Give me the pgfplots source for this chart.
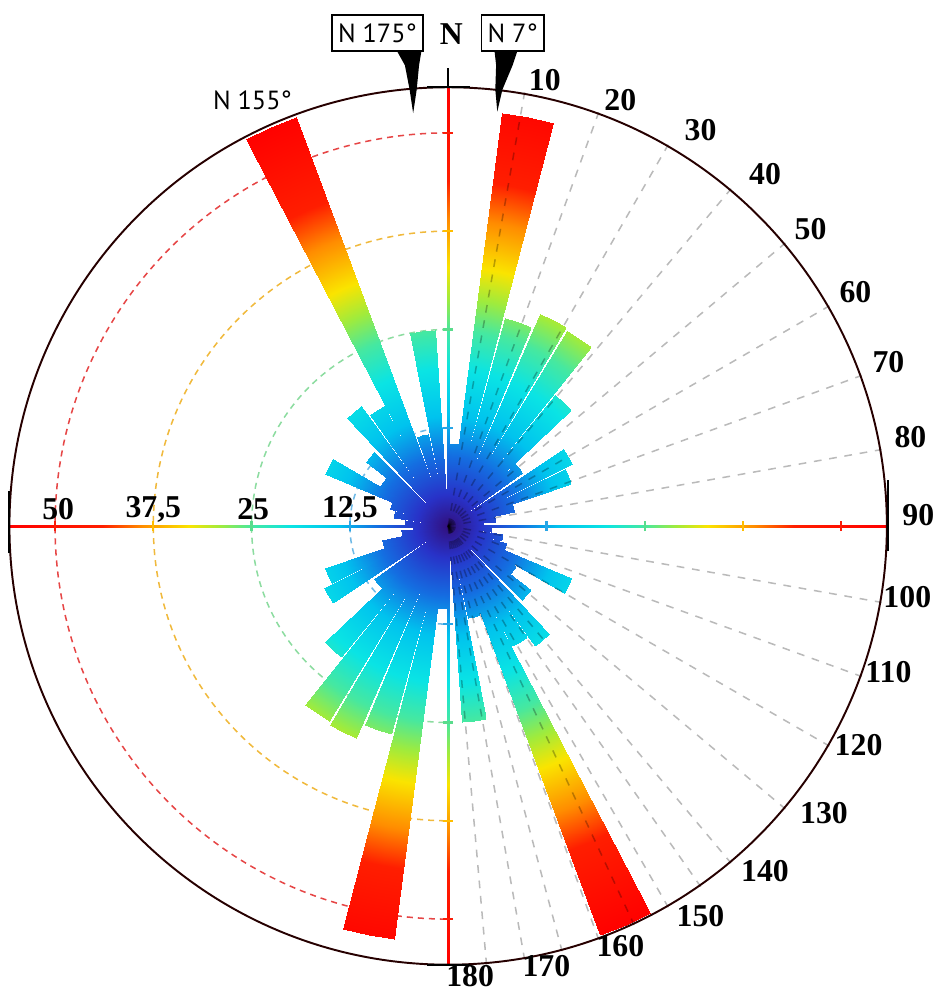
\documentclass[border=0pt]{standalone}
\usepackage{pgfplots}
\pgfplotsset{compat=1.18}
\usepackage{pgfplotstable}
\usepackage{fontspec}
\setmainfont{Liberation Serif}
\newfontfamily\boxfont{PT Sans}

\definecolor{cA}{RGB}{40,165,230}
\definecolor{cB}{RGB}{90,220,140}
\definecolor{cC}{RGB}{255,190,0}
\definecolor{cD}{RGB}{250,30,10}
\definecolor{dA}{RGB}{110,185,230}
\definecolor{dB}{RGB}{140,220,160}
\definecolor{dC}{RGB}{240,185,60}
\definecolor{dD}{RGB}{230,70,70}

% bidirectional rose data: azimuth of bin centre (deg, 0-180) and frequency
\pgfplotstableread{
ang r
3.5 10.5
11 53
19 27.4
27 29.4
35 29.1
43 21.5
50.5 11.6
60 17.6
67.5 16.5
74.5 8.6
81 6
88 4.5
95 5.5
102 7
110 7.7
116.5 17
124 10
131.5 13.3
140.5 18.8
148.3 17.3
156 55.5
164 12
172.5 25
}\rosedata
\def\hw{3.6}

\begin{document}
\begin{tikzpicture}
\begin{axis}[
  x=1mm, y=1mm, scale only axis,
  xmin=-57, xmax=63.6, ymin=-59.4, ymax=66.9,
  hide axis, clip=false,
  colormap={rose}{rgb255(0pt)=(50,15,125); rgb255(4pt)=(40,50,200); rgb255(9pt)=(20,110,225); rgb255(14pt)=(0,195,238); rgb255(20pt)=(10,228,228); rgb255(25pt)=(70,232,160); rgb255(29pt)=(160,235,60); rgb255(33pt)=(250,228,0); rgb255(39pt)=(255,140,0); rgb255(44pt)=(255,30,0); rgb255(56pt)=(255,0,0)},
  point meta min=0, point meta max=56,
]
\path (axis cs:-57,-59.4) rectangle (axis cs:63.6,66.9);

% dashed circles on the left half
\draw[dA, line width=0.55pt, dash pattern=on 2.2pt off 1.8pt] (axis cs:0,12.5) arc[start angle=90, end angle=270, radius=12.5];
\draw[dB, line width=0.55pt, dash pattern=on 2.2pt off 1.8pt] (axis cs:0,25) arc[start angle=90, end angle=270, radius=25];
\draw[dC, line width=0.55pt, dash pattern=on 2.2pt off 1.8pt] (axis cs:0,37.5) arc[start angle=90, end angle=270, radius=37.5];
\draw[dD, line width=0.55pt, dash pattern=on 2.2pt off 1.8pt] (axis cs:0,50) arc[start angle=90, end angle=270, radius=50];

% coloured radial axes
\addplot[patch, shader=interp, point meta=explicit, forget plot] coordinates {
 (0,-0.13) [0] (56,-0.13) [56] (56,0.13) [56]
 (0,-0.13) [0] (56,0.13) [56] (0,0.13) [0]
 (0,-0.13) [0] (-56,-0.13) [56] (-56,0.13) [56]
 (0,-0.13) [0] (-56,0.13) [56] (0,0.13) [0]
 (-0.13,0) [0] (-0.13,55.8) [56] (0.13,55.8) [56]
 (-0.13,0) [0] (0.13,55.8) [56] (0.13,0) [0]
 (-0.13,0) [0] (-0.13,-55.8) [56] (0.13,-55.8) [56]
 (-0.13,0) [0] (0.13,-55.8) [56] (0.13,0) [0]
};

% rose bars (each bin drawn at azimuth and azimuth+180)
\pgfplotsinvokeforeach{0,...,22}{%
  \pgfplotstablegetelem{#1}{ang}\of\rosedata \let\A\pgfplotsretval
  \pgfplotstablegetelem{#1}{r}\of\rosedata \let\R\pgfplotsretval
  \pgfmathsetmacro\xa{\R*sin(\A-\hw)}\pgfmathsetmacro\ya{\R*cos(\A-\hw)}
  \pgfmathsetmacro\xb{\R*sin(\A)}\pgfmathsetmacro\yb{\R*cos(\A)}
  \pgfmathsetmacro\xc{\R*sin(\A+\hw)}\pgfmathsetmacro\yc{\R*cos(\A+\hw)}
  \pgfmathsetmacro\nxa{-1*(\xa)}\pgfmathsetmacro\nya{-1*(\ya)}
  \pgfmathsetmacro\nxb{-1*(\xb)}\pgfmathsetmacro\nyb{-1*(\yb)}
  \pgfmathsetmacro\nxc{-1*(\xc)}\pgfmathsetmacro\nyc{-1*(\yc)}
  \edef\doplot{\noexpand\addplot[patch, shader=interp, point meta=explicit, forget plot] coordinates {
    (0,0) [0] (\xa,\ya) [\R] (\xb,\yb) [\R]
    (0,0) [0] (\xb,\yb) [\R] (\xc,\yc) [\R]
    (0,0) [0] (\nxa,\nya) [\R] (\nxb,\nyb) [\R]
    (0,0) [0] (\nxb,\nyb) [\R] (\nxc,\nyc) [\R]
  };}%
  \doplot
}

% axis ticks
\draw[cA, line width=0.8pt] (axis cs:12.5,-0.65) -- (axis cs:12.5,0.65) (axis cs:-12.5,-0.65) -- (axis cs:-12.5,0.65) (axis cs:-0.65,12.5) -- (axis cs:0.65,12.5) (axis cs:-0.65,-12.5) -- (axis cs:0.65,-12.5);
\draw[cB, line width=0.8pt] (axis cs:25,-0.65) -- (axis cs:25,0.65) (axis cs:-25,-0.65) -- (axis cs:-25,0.65) (axis cs:-0.65,25) -- (axis cs:0.65,25) (axis cs:-0.65,-25) -- (axis cs:0.65,-25);
\draw[cC, line width=0.8pt] (axis cs:37.5,-0.65) -- (axis cs:37.5,0.65) (axis cs:-37.5,-0.65) -- (axis cs:-37.5,0.65) (axis cs:-0.65,37.5) -- (axis cs:0.65,37.5) (axis cs:-0.65,-37.5) -- (axis cs:0.65,-37.5);
\draw[cD, line width=0.8pt] (axis cs:50,-0.65) -- (axis cs:50,0.65) (axis cs:-50,-0.65) -- (axis cs:-50,0.65) (axis cs:-0.65,50) -- (axis cs:0.65,50) (axis cs:-0.65,-50) -- (axis cs:0.65,-50);

% grey radial grid on the right half
\pgfplotsinvokeforeach{10,20,...,80,100,110,...,170,145,155,165,175}{%
  \draw[black, opacity=0.27, line width=0.55pt, dash pattern=on 2.8pt off 2.8pt] (axis cs:0,0) -- (axis cs:{56*sin(#1)},{56*cos(#1)});
}

% outer circle
\draw[black!85!red, line width=0.7pt] (axis cs:0,0) circle[radius=55.8];
\draw[black, line width=0.7pt] (axis cs:-2.7,55.8) -- (axis cs:2.8,55.8) (axis cs:0,55.8) -- (axis cs:0,58.3);
\draw[black, line width=0.7pt] (axis cs:-2.7,-55.8) -- (axis cs:2.8,-55.8);
\draw[black, line width=0.7pt] (axis cs:-55.8,-3.5) -- (axis cs:-55.8,4.5);
\draw[black, line width=0.7pt] (axis cs:55.9,-3.2) -- (axis cs:55.9,5.8);

% angle labels
\begin{scope}[every node/.style={font=\fontsize{11.5}{13}\selectfont\bfseries, inner sep=0pt}]
\node at (axis cs:12.3,56.7) {10};
\node at (axis cs:21.9,54.2) {20};
\node at (axis cs:32.1,50.4) {30};
\node at (axis cs:40.3,44.7) {40};
\node at (axis cs:46.1,37.7) {50};
\node at (axis cs:51.8,29.8) {60};
\node at (axis cs:56.0,20.9) {70};
\node at (axis cs:58.8,11.3) {80};
\node at (axis cs:59.8,1.4) {90};
\node at (axis cs:58.4,-9.0) {100};
\node at (axis cs:56.0,-18.6) {110};
\node at (axis cs:52.2,-27.9) {120};
\node at (axis cs:47.8,-36.5) {130};
\node at (axis cs:40.3,-43.9) {140};
\node at (axis cs:32.1,-49.6) {150};
\node at (axis cs:21.9,-53.4) {160};
\node at (axis cs:12.5,-56.0) {170};
\node at (axis cs:2.8,-57.3) {180};
\node at (axis cs:-49.6,2.1) {50};
\node at (axis cs:-37.5,2.1) {37,5};
\node at (axis cs:-24.8,2.1) {25};
\node at (axis cs:-12.5,2.1) {12,5};
\node at (axis cs:0.4,62.6) {N};
\end{scope}

% annotations
\node[draw, line width=0.7pt, font=\boxfont\fontsize{9.5}{11}\selectfont, inner sep=2.2pt, minimum height=13pt] at (axis cs:-9.0,62.7) {N 175°};
\node[draw, line width=0.7pt, font=\boxfont\fontsize{9.5}{11}\selectfont, inner sep=2.2pt, minimum height=13pt] at (axis cs:8.2,62.7) {N 7°};
\node[font=\boxfont\fontsize{9.5}{11}\selectfont] at (axis cs:-24.9,54.2) {N 155°};
\fill[black] (axis cs:-6.5,60.4) -- (axis cs:-3.4,60.4) -- (axis cs:-3.7,58.6) -- (axis cs:-4.0,55.5) -- (axis cs:-4.45,52.5) -- (axis cs:-4.9,55.5) -- (axis cs:-5.5,58.6) -- cycle;
\fill[black] (axis cs:5.9,60.4) -- (axis cs:8.8,60.4) -- (axis cs:8.2,58.6) -- (axis cs:6.9,55.5) -- (axis cs:6.25,52.7) -- (axis cs:6.0,55.5) -- (axis cs:6.1,58.6) -- cycle;
\end{axis}
\end{tikzpicture}
\end{document}
